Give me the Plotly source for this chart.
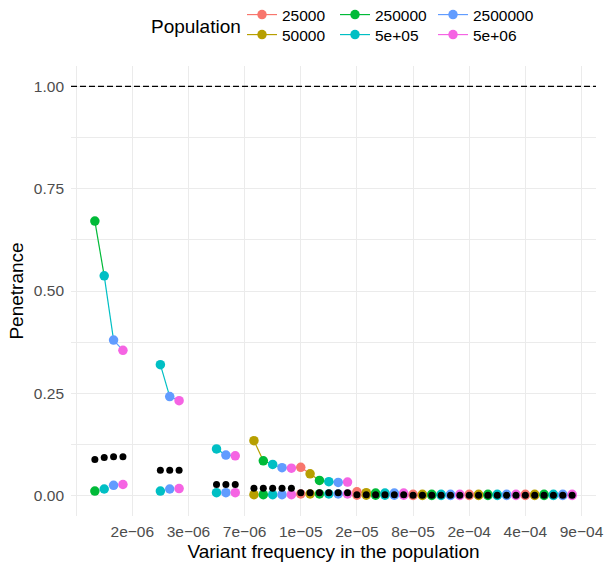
import plotly.graph_objects as go

# Population sizes and their ggplot-hue colours
populations = ["25000", "50000", "250000", "5e+05", "2500000", "5e+06"]
pop_colors = ["#F8766D", "#B79F00", "#00BA38", "#00BFC4", "#619CFF", "#F564E3"]

# Frequency tick labels (placed at the start of each block of six slots)
freq_labels = ["2e\u221206", "3e\u221206", "7e\u221206", "1e\u221205", "2e\u221205",
               "8e\u221205", "2e\u221204", "4e\u221204", "9e\u221204"]

# Penetrance per frequency block (rows) and population (columns); None = not simulated
penetrance_max = [
    [None, None, 0.671, 0.537, 0.380, 0.355],
    [None, None, None, 0.320, 0.242, 0.232],
    [None, None, None, 0.114, 0.099, 0.097],
    [None, 0.134, 0.085, 0.076, 0.068, 0.067],
    [0.069, 0.053, 0.037, 0.034, 0.032, 0.033],
    [0.009, 0.007, 0.006, 0.006, 0.006, 0.006],
    [0.003, 0.003, 0.003, 0.003, 0.003, 0.003],
    [0.003, 0.003, 0.003, 0.003, 0.003, 0.003],
    [0.003, 0.003, 0.003, 0.003, 0.003, 0.003],
]
penetrance_mean = [
    [None, None, 0.088, 0.093, 0.095, 0.095],
    [None, None, None, 0.062, 0.062, 0.062],
    [None, None, None, 0.027, 0.027, 0.027],
    [None, 0.018, 0.018, 0.018, 0.018, 0.018],
    [0.007, 0.007, 0.007, 0.007, 0.007, 0.007],
    [0.002, 0.002, 0.002, 0.002, 0.002, 0.002],
    [0.0005, 0.0005, 0.0005, 0.0005, 0.0005, 0.0005],
    [0.0005, 0.0005, 0.0005, 0.0005, 0.0005, 0.0005],
    [0.0005, 0.0005, 0.0005, 0.0005, 0.0005, 0.0005],
]
penetrance_min = [
    [None, None, 0.011, 0.016, 0.025, 0.027],
    [None, None, None, 0.011, 0.016, 0.017],
    [None, None, None, 0.007, 0.007, 0.007],
    [None, 0.002, 0.002, 0.002, 0.002, 0.002],
    [0.004, 0.004, 0.004, 0.004, 0.004, 0.004],
    [0.001, 0.001, 0.001, 0.001, 0.001, 0.001],
    [0.0003, 0.0003, 0.0003, 0.0003, 0.0003, 0.0003],
    [0.0003, 0.0003, 0.0003, 0.0003, 0.0003, 0.0003],
    [0.0003, 0.0003, 0.0003, 0.0003, 0.0003, 0.0003],
]

FONT = "Liberation Sans, Arial, Helvetica, sans-serif"
n_pop = len(populations)
n_blocks = len(penetrance_max)

W, H = 611, 567
M_L, M_R, M_T, M_B = 71, 8, 66, 50
PLOT_W = W - M_L - M_R
PLOT_H = H - M_T - M_B


def slot(block, p):
    return block * n_pop + p


fig = go.Figure()

# Connecting lines of the maximum series; each segment takes the colour of its start point
for p, col in enumerate(pop_colors):
    xs, ys = [], []
    for b in range(n_blocks):
        row = penetrance_max[b]
        if row[p] is None:
            continue
        nxt = next((q for q in range(p + 1, n_pop) if row[q] is not None), None)
        if nxt is None:
            continue
        xs += [slot(b, p), slot(b, nxt), None]
        ys += [row[p], row[nxt], None]
    fig.add_trace(go.Scatter(x=xs, y=ys, mode="lines", line=dict(color=col, width=1.2),
                             showlegend=False, hoverinfo="skip"))

# Coloured points: maximum and minimum penetrance
for series in (penetrance_max, penetrance_min):
    for p, col in enumerate(pop_colors):
        xs = [slot(b, p) for b in range(n_blocks) if series[b][p] is not None]
        ys = [series[b][p] for b in range(n_blocks) if series[b][p] is not None]
        fig.add_trace(go.Scatter(x=xs, y=ys, mode="markers",
                                 marker=dict(color=col, size=9.5, line=dict(width=0)),
                                 showlegend=False, name=populations[p]))

# Black points: mean penetrance
bx, by = [], []
for b in range(n_blocks):
    for p in range(n_pop):
        if penetrance_mean[b][p] is not None:
            bx.append(slot(b, p))
            by.append(penetrance_mean[b][p])
fig.add_trace(go.Scatter(x=bx, y=by, mode="markers",
                         marker=dict(color="black", size=7, line=dict(width=0)),
                         showlegend=False, name="mean"))

# Legend entries, laid out column-wise over two rows
col_widths = [48, 53, 75]
for p in range(n_pop):
    fig.add_trace(go.Scatter(x=[None], y=[None], mode="lines+markers",
                             name=populations[p],
                             line=dict(color=pop_colors[p], width=1.2),
                             marker=dict(color=pop_colors[p], size=9.5),
                             legendwidth=col_widths[p // 2],
                             legend="legend" if p % 2 == 0 else "legend2"))

legend_common = dict(orientation="h", xref="container", yref="container",
                     xanchor="left", yanchor="middle",
                     font=dict(family=FONT, size=15.5, color="black"),
                     bgcolor="rgba(0,0,0,0)", tracegroupgap=0, itemsizing="trace")

x_ticks = [b * n_pop for b in range(n_blocks + 1)]
x_text = [""] + freq_labels

fig.update_layout(
    width=W, height=H,
    margin=dict(l=M_L, r=M_R, t=M_T, b=M_B),
    paper_bgcolor="white", plot_bgcolor="white",
    font=dict(family=FONT),
    legend=dict(x=242 / W, y=1 - 15 / H, **legend_common),
    legend2=dict(x=242 / W, y=1 - 35 / H, **legend_common),
    xaxis=dict(
        range=[-0.55, 55.55], tickmode="array", tickvals=x_ticks, ticktext=x_text,
        showgrid=True, gridcolor="#EBEBEB", gridwidth=1.2, zeroline=False,
        showline=False, ticks="", tickfont=dict(family=FONT, size=15.5, color="#4D4D4D"),
        ticklabelstandoff=4,
        title=dict(text="Variant frequency in the population", standoff=6,
                   font=dict(family=FONT, size=19, color="black")),
    ),
    yaxis=dict(
        range=[-0.05, 1.05], tickmode="array", tickvals=[0, 0.25, 0.5, 0.75, 1.0],
        ticktext=["0.00", "0.25", "0.50", "0.75", "1.00"],
        showgrid=True, gridcolor="#EBEBEB", gridwidth=1.2, zeroline=False,
        showline=False, ticks="", tickfont=dict(family=FONT, size=15.5, color="#4D4D4D"),
        ticklabelstandoff=6,
        minor=dict(tick0=0, dtick=0.125, showgrid=True, gridcolor="#EBEBEB", gridwidth=1.2),
        title=dict(text="Penetrance", standoff=5,
                   font=dict(family=FONT, size=19, color="black")),
    ),
    shapes=[dict(type="line", xref="paper", yref="y", x0=0, x1=1, y0=1, y1=1,
                 line=dict(color="black", width=1.2, dash="6px,3px"), layer="above")],
    annotations=[dict(text="Population", xref="paper", yref="paper",
                      x=(150 - M_L) / PLOT_W, y=(H - M_B - 26) / PLOT_H,
                      xanchor="left", yanchor="middle",
                      showarrow=False, font=dict(family=FONT, size=19, color="black"))],
)

fig.write_html("out.html")
